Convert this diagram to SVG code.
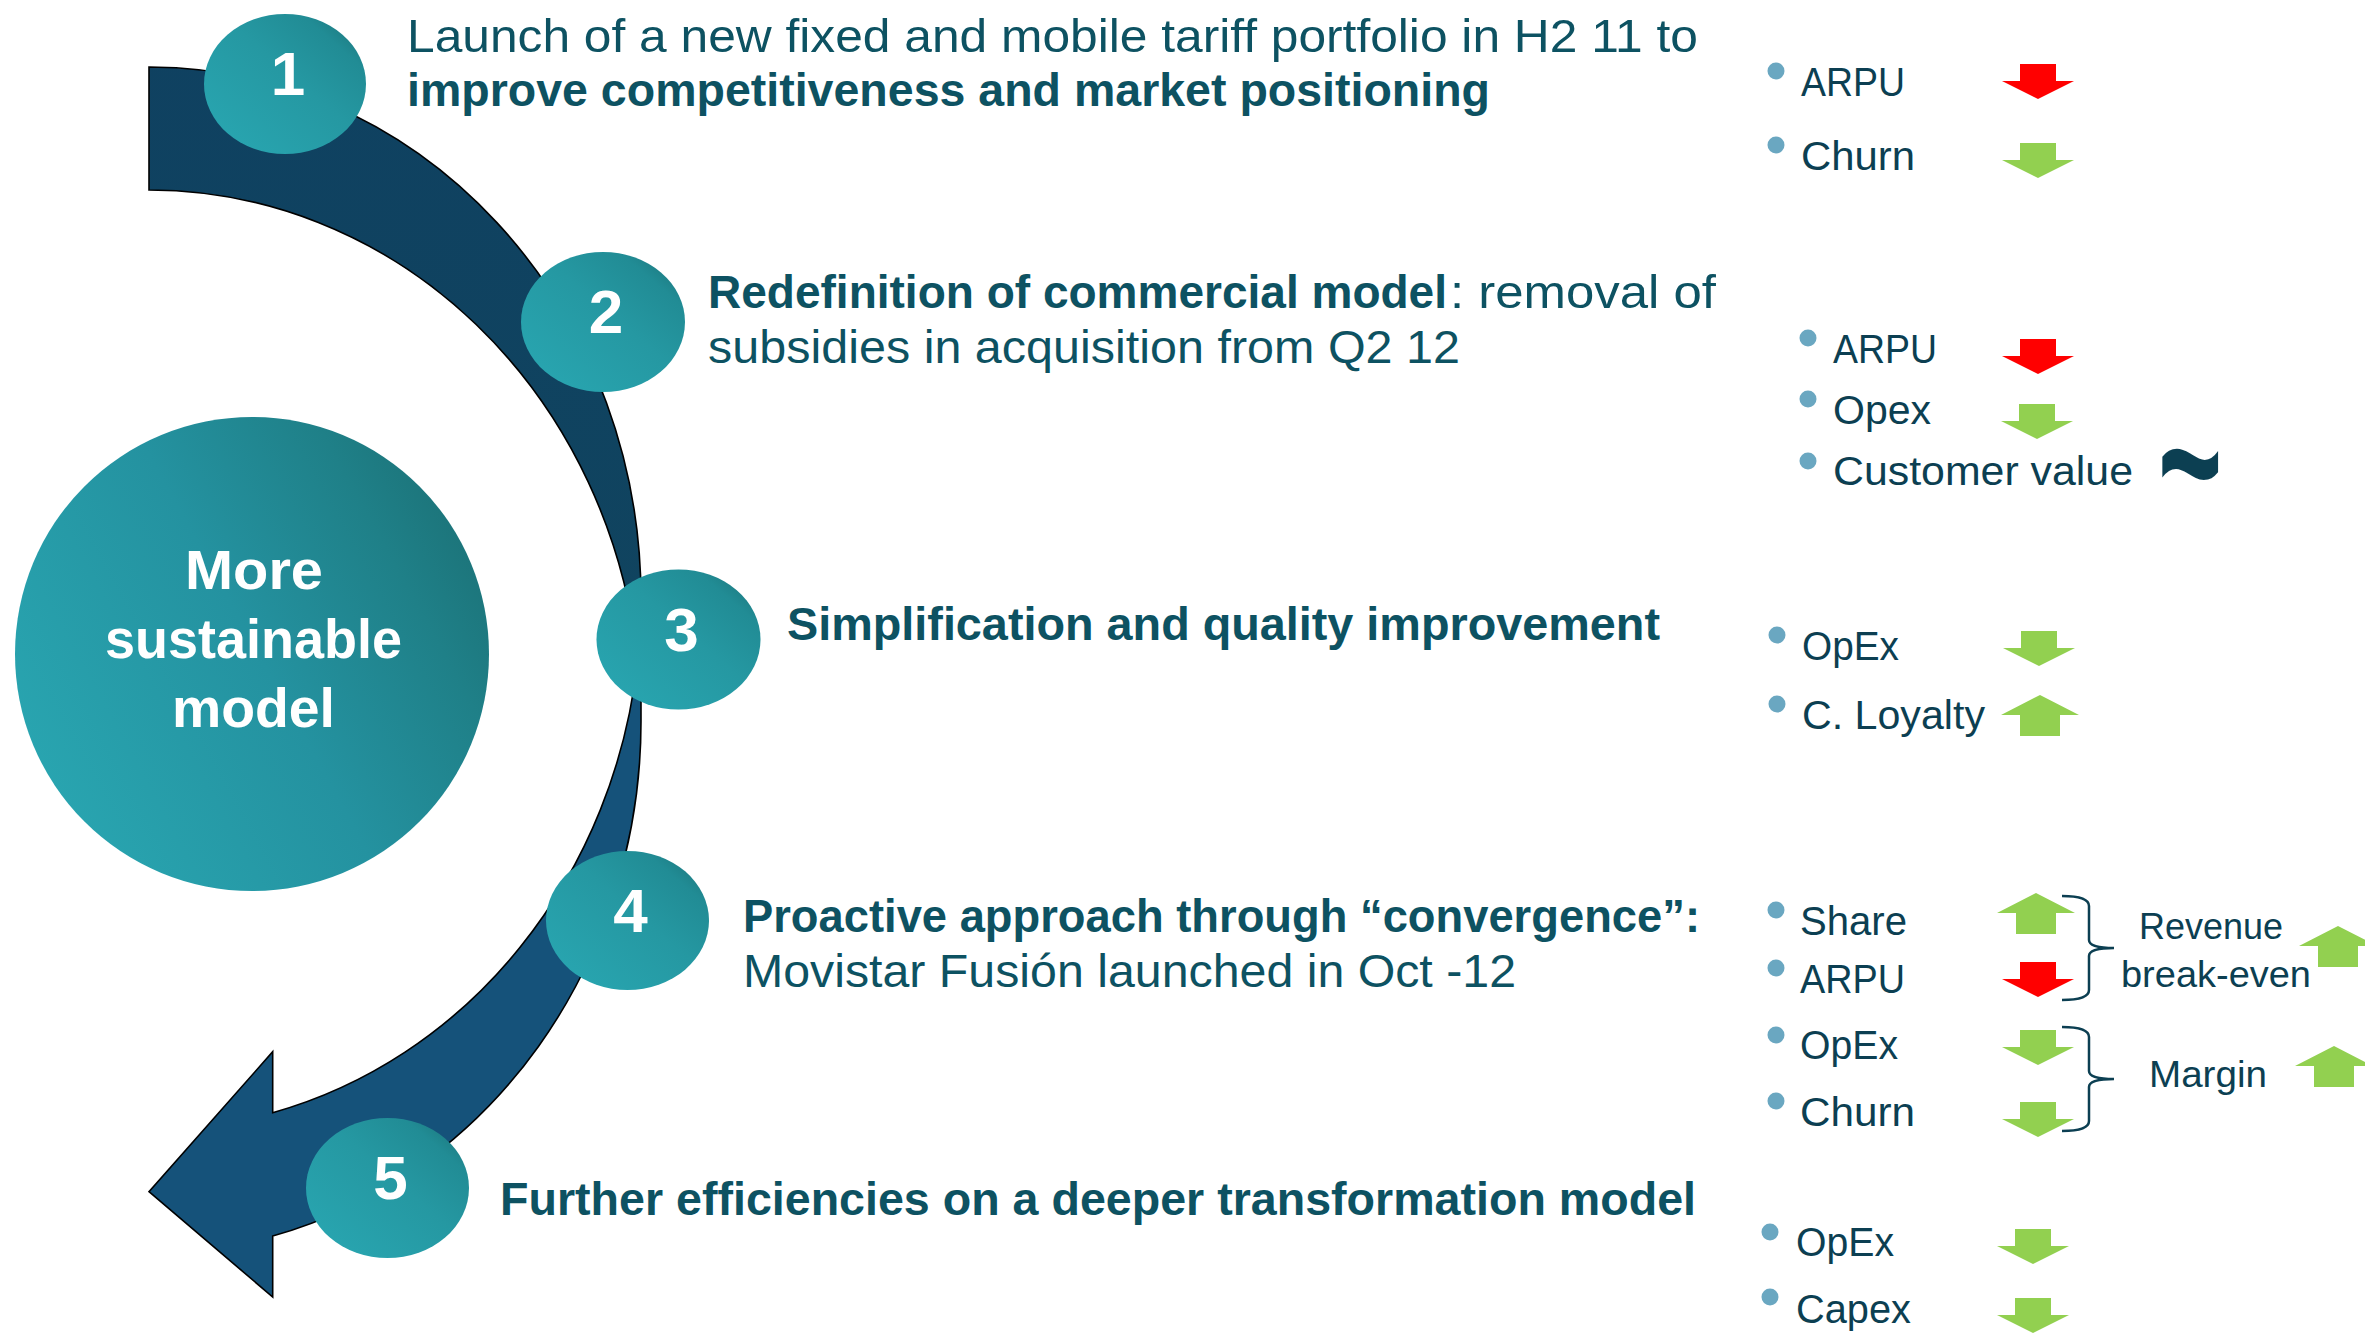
<svg xmlns="http://www.w3.org/2000/svg" width="2365" height="1343" viewBox="0 0 2365 1343">
  <defs>
    <linearGradient id="bandGrad" gradientUnits="userSpaceOnUse" x1="0" y1="0" x2="0" y2="1343">
      <stop offset="0" stop-color="#0f4161"/>
      <stop offset="0.4914" stop-color="#10445f"/>
      <stop offset="0.4915" stop-color="#15527a"/>
      <stop offset="1" stop-color="#15527a"/>
    </linearGradient>
    <linearGradient id="numGrad" x1="0" y1="1" x2="1" y2="0">
      <stop offset="0" stop-color="#29a8b3"/>
      <stop offset="0.55" stop-color="#2598a2"/>
      <stop offset="0.8" stop-color="#218c95"/>
      <stop offset="1" stop-color="#196c70"/>
    </linearGradient>
    <linearGradient id="bigGrad" x1="0" y1="0.75" x2="1" y2="0.2">
      <stop offset="0" stop-color="#29a6b1"/>
      <stop offset="0.5" stop-color="#2492a0"/>
      <stop offset="0.8" stop-color="#1f8088"/>
      <stop offset="1" stop-color="#1b7075"/>
    </linearGradient>
    <polygon id="down" points="18,0 54,0 54,17 72,17 36,35 0,17 18,17"/>
    <polygon id="up" points="39,0 78,20 59,20 59,41 19,41 19,20 0,20"/>
  </defs>
  <style>
    .main { font-family: "Liberation Sans", Arial, sans-serif; font-size: 47px; fill: #0d5262; }
    .b { font-weight: bold; }
    .num { font-family: "Liberation Sans", Arial, sans-serif; font-size: 62px; font-weight: bold; fill: #ffffff; text-anchor: middle; }
    .big { font-family: "Liberation Sans", Arial, sans-serif; font-size: 55px; font-weight: bold; fill: #ffffff; }
    .kpi { font-family: "Liberation Sans", Arial, sans-serif; font-size: 40px; fill: #0c3f52; }
    .kpi2 { font-family: "Liberation Sans", Arial, sans-serif; font-size: 36px; fill: #0c3f52; }
    .dot { fill: #6aa7c1; }
    .green { fill: #92d050; }
    .red { fill: #ff0000; }
    .brace { fill: none; stroke: #0c3f52; stroke-width: 2.5; }
    .numc { fill: url(#numGrad); }
  </style>

  <g id="connectors">
    <path id="curved-arrow" fill="url(#bandGrad)" stroke="#000000" stroke-width="1.6" stroke-linejoin="miter"
      d="M149,67 A492,531.4 0 0 1 641,598.4 L641,721.4 A492,531.4 0 0 1 272.7,1236 L272.7,1297 L149,1191.7 L272.7,1051.7 L272.7,1112.7 A492,531.4 0 0 0 637.7,660 A492,531.4 0 0 0 149,190 Z"/>
  </g>

  <g id="center-node">
    <circle cx="252" cy="654" r="237" fill="url(#bigGrad)"/>
    <text class="big" x="185" y="589" textLength="138" lengthAdjust="spacingAndGlyphs">More</text>
    <text class="big" x="105" y="658" textLength="297" lengthAdjust="spacingAndGlyphs">sustainable</text>
    <text class="big" x="172" y="727" textLength="163" lengthAdjust="spacingAndGlyphs">model</text>
  </g>

  <g id="step-1">
    <ellipse class="numc" cx="285" cy="84" rx="81" ry="70"/>
    <text class="num" x="288" y="95">1</text>
    <text class="main" x="407" y="51.5" textLength="1291" lengthAdjust="spacingAndGlyphs">Launch of a new fixed and mobile tariff portfolio in H2 11 to</text>
    <text class="main b" x="407" y="106" textLength="1083" lengthAdjust="spacingAndGlyphs">improve competitiveness and market positioning</text>
  </g>

  <g id="step-2">
    <ellipse class="numc" cx="603" cy="322" rx="82" ry="70"/>
    <text class="num" x="606" y="333">2</text>
    <text class="main b" x="708" y="308" textLength="739" lengthAdjust="spacingAndGlyphs">Redefinition of commercial model</text>
    <text class="main" x="1450" y="308" textLength="266" lengthAdjust="spacingAndGlyphs">: removal of</text>
    <text class="main" x="708" y="363" textLength="752" lengthAdjust="spacingAndGlyphs">subsidies in acquisition from Q2 12</text>
  </g>

  <g id="step-3">
    <ellipse class="numc" cx="678.5" cy="639.5" rx="82" ry="70"/>
    <text class="num" x="681.5" y="650.5">3</text>
    <text class="main b" x="787" y="640" textLength="873" lengthAdjust="spacingAndGlyphs">Simplification and quality improvement</text>
  </g>

  <g id="step-4">
    <ellipse class="numc" cx="627.5" cy="920.5" rx="81.5" ry="69.5"/>
    <text class="num" x="630.5" y="931.5">4</text>
    <text class="main b" x="743" y="932" textLength="957" lengthAdjust="spacingAndGlyphs">Proactive approach through “convergence”:</text>
    <text class="main" x="743" y="987" textLength="773" lengthAdjust="spacingAndGlyphs">Movistar Fusión launched in Oct -12</text>
  </g>

  <g id="step-5">
    <ellipse class="numc" cx="387.5" cy="1188" rx="81.5" ry="70"/>
    <text class="num" x="390.5" y="1199">5</text>
    <text class="main b" x="500" y="1215" textLength="1196" lengthAdjust="spacingAndGlyphs">Further efficiencies on a deeper transformation model</text>
  </g>

  <g id="kpi-1">
    <circle class="dot" cx="1776" cy="71" r="8.5"/>
    <text class="kpi" x="1801" y="96" textLength="104" lengthAdjust="spacingAndGlyphs">ARPU</text>
    <use href="#down" class="red" x="2002" y="64"/>
    <circle class="dot" cx="1776" cy="145" r="8.5"/>
    <text class="kpi" x="1801" y="170" textLength="114" lengthAdjust="spacingAndGlyphs">Churn</text>
    <use href="#down" class="green" x="2002" y="143"/>
  </g>

  <g id="kpi-2">
    <circle class="dot" cx="1808" cy="338" r="8.5"/>
    <text class="kpi" x="1833" y="363" textLength="104" lengthAdjust="spacingAndGlyphs">ARPU</text>
    <use href="#down" class="red" x="2002" y="339"/>
    <circle class="dot" cx="1808" cy="399" r="8.5"/>
    <text class="kpi" x="1833" y="424" textLength="98" lengthAdjust="spacingAndGlyphs">Opex</text>
    <use href="#down" class="green" x="2001" y="404"/>
    <circle class="dot" cx="1808" cy="461" r="8.5"/>
    <text class="kpi" x="1833" y="485" textLength="300" lengthAdjust="spacingAndGlyphs">Customer value</text>
    <text transform="translate(0,469) scale(1,1.8) translate(0,-469)" x="2158" y="503" font-family="Liberation Sans, Arial, sans-serif" font-size="110" font-weight="bold" fill="#0c3f52">~</text>
  </g>

  <g id="kpi-3">
    <circle class="dot" cx="1777" cy="635" r="8.5"/>
    <text class="kpi" x="1802" y="660" textLength="97" lengthAdjust="spacingAndGlyphs">OpEx</text>
    <use href="#down" class="green" x="2003" y="631"/>
    <circle class="dot" cx="1777" cy="704" r="8.5"/>
    <text class="kpi" x="1802" y="729" textLength="183" lengthAdjust="spacingAndGlyphs">C. Loyalty</text>
    <use href="#up" class="green" x="2001" y="695"/>
  </g>

  <g id="kpi-4">
    <circle class="dot" cx="1776" cy="910" r="8.5"/>
    <text class="kpi" x="1800" y="935" textLength="107" lengthAdjust="spacingAndGlyphs">Share</text>
    <use href="#up" class="green" x="1997" y="893"/>
    <circle class="dot" cx="1776" cy="968" r="8.5"/>
    <text class="kpi" x="1800" y="993" textLength="105" lengthAdjust="spacingAndGlyphs">ARPU</text>
    <use href="#down" class="red" x="2002" y="962"/>
    <circle class="dot" cx="1776" cy="1035" r="8.5"/>
    <text class="kpi" x="1800" y="1059" textLength="98" lengthAdjust="spacingAndGlyphs">OpEx</text>
    <use href="#down" class="green" x="2002" y="1030"/>
    <circle class="dot" cx="1776" cy="1101" r="8.5"/>
    <text class="kpi" x="1800" y="1126" textLength="115" lengthAdjust="spacingAndGlyphs">Churn</text>
    <use href="#down" class="green" x="2002" y="1102"/>
    <path class="brace" d="M2062,896 Q2089,896 2089,906 L2089,940 Q2089,948 2114,948 Q2089,948 2089,956 L2089,990 Q2089,1000 2062,1000"/>
    <path class="brace" d="M2062,1027 Q2089,1027 2089,1037 L2089,1071 Q2089,1079 2114,1079 Q2089,1079 2089,1087 L2089,1121 Q2089,1131 2062,1131"/>
    <text class="kpi2" x="2139" y="939" textLength="144" lengthAdjust="spacingAndGlyphs">Revenue</text>
    <text class="kpi2" x="2121" y="987" textLength="190" lengthAdjust="spacingAndGlyphs">break-even</text>
    <use href="#up" class="green" x="2299" y="926"/>
    <text class="kpi2" x="2149" y="1087" textLength="118" lengthAdjust="spacingAndGlyphs">Margin</text>
    <use href="#up" class="green" x="2295" y="1046"/>
  </g>

  <g id="kpi-5">
    <circle class="dot" cx="1770" cy="1232" r="8.5"/>
    <text class="kpi" x="1796" y="1256" textLength="98" lengthAdjust="spacingAndGlyphs">OpEx</text>
    <use href="#down" class="green" x="1997" y="1229"/>
    <circle class="dot" cx="1770" cy="1297" r="8.5"/>
    <text class="kpi" x="1796" y="1323" textLength="115" lengthAdjust="spacingAndGlyphs">Capex</text>
    <use href="#down" class="green" x="1997" y="1298"/>
  </g>
</svg>
